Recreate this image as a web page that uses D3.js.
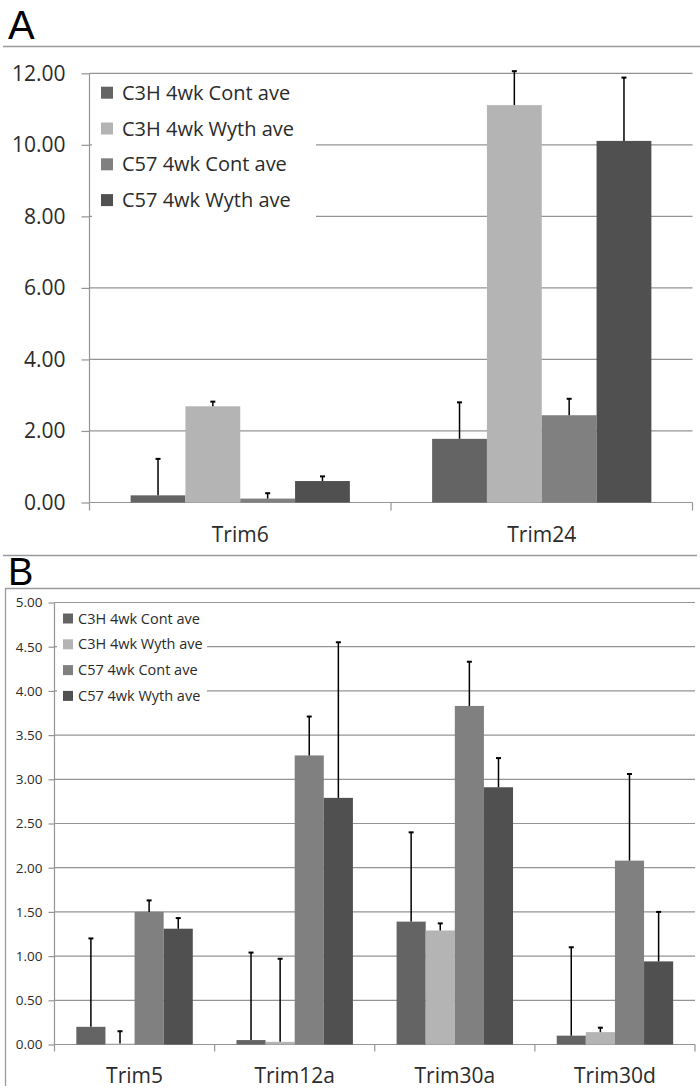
<!DOCTYPE html>
<html>
<head>
<meta charset="utf-8">
<script src="https://cdn.jsdelivr.net/npm/d3@7"></script>
<style>
  html, body { margin: 0; padding: 0; background: #fff; }
  svg { display: block; }
</style>
</head>
<body>
<svg id="chart" width="700" height="1092"></svg>
<script>
// ---------- DATA ----------
const seriesNames = ["C3H 4wk Cont ave", "C3H 4wk Wyth ave", "C57 4wk Cont ave", "C57 4wk Wyth ave"];

// Panel A
const aCategories = ["Trim6", "Trim24"];
const aC3HCont    = [0.20, 1.78];
const aC3HContErr = [1.02, 1.02];
const aC3HWyth    = [2.69, 11.11];
const aC3HWythErr = [0.13, 0.95];
const aC57Cont    = [0.11, 2.44];
const aC57ContErr = [0.15, 0.46];
const aC57Wyth    = [0.60, 10.11];
const aC57WythErr = [0.13, 1.77];
const aTicks = [0, 2, 4, 6, 8, 10, 12];

// Panel B
const bCategories = ["Trim5", "Trim12a", "Trim30a", "Trim30d"];
const bC3HCont    = [0.20, 0.05, 1.39, 0.10];
const bC3HContErr = [1.00, 0.99, 1.01, 1.00];
const bC3HWyth    = [0.01, 0.03, 1.29, 0.14];
const bC3HWythErr = [0.14, 0.94, 0.08, 0.05];
const bC57Cont    = [1.50, 3.27, 3.83, 2.08];
const bC57ContErr = [0.13, 0.44, 0.50, 0.98];
const bC57Wyth    = [1.31, 2.79, 2.91, 0.94];
const bC57WythErr = [0.12, 1.76, 0.33, 0.56];
const bTicks = [0, 0.5, 1, 1.5, 2, 2.5, 3, 3.5, 4, 4.5, 5];

// ---------- STYLE ----------
const seriesColors = ["#646464", "#b4b4b4", "#808080", "#505050"];
const gridColor = "#949494";
const textColor = "#2b2b2b";
const FONT = "'Open Sans', 'DejaVu Sans', sans-serif";

const svg = d3.select("#chart");

function buildRows(cats, means, errs) {
  return cats.map((c, i) => ({
    cat: c,
    vals: seriesNames.map((s, j) => ({ series: s, idx: j, v: means[j][i], e: errs[j][i] }))
  }));
}

function drawPanel(cfg) {
  const g = svg.append("g");
  const rows = buildRows(cfg.cats, cfg.means, cfg.errs);

  const x0 = d3.scaleBand().domain(cfg.cats).range([cfg.left, cfg.right]).paddingInner(0).paddingOuter(0);
  const x1 = d3.scaleBand().domain(seriesNames).range([0, x0.bandwidth()]).paddingInner(0).paddingOuter(0.75);
  const y = d3.scaleLinear().domain([0, cfg.ymax]).range([cfg.y0, cfg.ytop]);

  // gridlines
  g.append("g").selectAll("line").data(cfg.ticks.filter(t => t > 0)).join("line")
    .attr("x1", cfg.left).attr("x2", cfg.right)
    .attr("y1", d => y(d)).attr("y2", d => y(d))
    .attr("stroke", gridColor).attr("stroke-width", 1.2);

  // legend background (covers gridlines)
  g.append("rect")
    .attr("x", cfg.legend.bx).attr("y", cfg.legend.by)
    .attr("width", cfg.legend.bw).attr("height", cfg.legend.bh)
    .attr("fill", "#fff");

  // y axis
  const yAxis = d3.axisLeft(y).tickValues(cfg.ticks).tickFormat(d3.format(".2f"))
    .tickSize(cfg.tickLen).tickPadding(cfg.tickPad);
  const ya = g.append("g").attr("transform", `translate(${cfg.left},0)`).call(yAxis);
  ya.select(".domain").attr("stroke", gridColor).attr("stroke-width", 1.2)
    .attr("d", `M0,${y(0)}V${y(cfg.ymax)}`);
  ya.selectAll(".tick line").attr("stroke", gridColor).attr("stroke-width", 1.2);
  ya.selectAll(".tick text").attr("fill", textColor)
    .style("font-family", FONT).style("font-size", cfg.tickFont + "px");

  // x axis baseline + boundary ticks
  g.append("line").attr("x1", cfg.left).attr("x2", cfg.right)
    .attr("y1", y(0)).attr("y2", y(0))
    .attr("stroke", gridColor).attr("stroke-width", 1.2);
  const bounds = cfg.cats.map(c => x0(c)).concat([x0(cfg.cats[cfg.cats.length - 1]) + x0.bandwidth()]);
  g.append("g").selectAll("line").data(bounds).join("line")
    .attr("x1", d => d).attr("x2", d => d)
    .attr("y1", y(0)).attr("y2", y(0) + cfg.xTickLen)
    .attr("stroke", gridColor).attr("stroke-width", 1.2);

  // category labels
  g.append("g").selectAll("text").data(cfg.cats).join("text")
    .attr("x", d => x0(d) + x0.bandwidth() / 2)
    .attr("y", cfg.catY)
    .attr("text-anchor", "middle")
    .attr("fill", textColor)
    .style("font-family", FONT).style("font-size", cfg.catFont + "px")
    .text(d => d);

  // bars
  const grp = g.append("g").selectAll("g").data(rows).join("g")
    .attr("transform", d => `translate(${x0(d.cat)},0)`);
  grp.selectAll("rect").data(d => d.vals).join("rect")
    .attr("x", d => x1(d.series))
    .attr("width", x1.bandwidth())
    .attr("y", d => y(d.v))
    .attr("height", d => y(0) - y(d.v))
    .attr("fill", d => seriesColors[d.idx]);

  // error bars (positive only)
  const eb = grp.selectAll("g.err").data(d => d.vals).join("g").attr("class", "err");
  eb.append("line")
    .attr("x1", d => x1(d.series) + x1.bandwidth() / 2)
    .attr("x2", d => x1(d.series) + x1.bandwidth() / 2)
    .attr("y1", d => y(d.v))
    .attr("y2", d => y(d.v + d.e))
    .attr("stroke", "#000").attr("stroke-width", 1.5);
  eb.append("line")
    .attr("x1", d => x1(d.series) + x1.bandwidth() / 2 - 2.5)
    .attr("x2", d => x1(d.series) + x1.bandwidth() / 2 + 2.5)
    .attr("y1", d => y(d.v + d.e))
    .attr("y2", d => y(d.v + d.e))
    .attr("stroke", "#000").attr("stroke-width", 2);

  // legend
  const lg = g.append("g").selectAll("g").data(seriesNames).join("g")
    .attr("transform", (d, i) => `translate(${cfg.legend.sx},${cfg.legend.y0 + i * cfg.legend.dy})`);
  lg.append("rect")
    .attr("x", 0).attr("y", -cfg.legend.sq / 2)
    .attr("width", cfg.legend.sq).attr("height", cfg.legend.sq)
    .attr("fill", (d, i) => seriesColors[i]);
  lg.append("text")
    .attr("x", cfg.legend.tx).attr("y", 0).attr("dy", "0.35em")
    .attr("fill", textColor)
    .style("font-family", FONT).style("font-size", cfg.legend.font + "px")
    .text(d => d);
}

// ---------- FRAME / PANEL LETTERS ----------
const frame = svg.append("g").attr("stroke", "#9a9a9a").attr("stroke-width", 1.3);
frame.append("line").attr("x1", 3).attr("x2", 700).attr("y1", 46.5).attr("y2", 46.5);
frame.append("line").attr("x1", 3).attr("x2", 697).attr("y1", 555.5).attr("y2", 555.5);
frame.append("line").attr("x1", 5).attr("x2", 700).attr("y1", 588.5).attr("y2", 588.5);
frame.append("line").attr("x1", 5.5).attr("x2", 5.5).attr("y1", 588.5).attr("y2", 1086);

svg.append("text").attr("x", 8).attr("y", 39)
  .style("font-family", "'Liberation Sans', Arial, sans-serif").style("font-size", "40px")
  .attr("fill", "#000").text("A");
svg.append("text").attr("x", 8).attr("y", 585)
  .style("font-family", "'Liberation Sans', Arial, sans-serif").style("font-size", "38px")
  .attr("fill", "#000").text("B");

// ---------- PANEL A ----------
drawPanel({
  cats: aCategories,
  means: [aC3HCont, aC3HWyth, aC57Cont, aC57Wyth],
  errs: [aC3HContErr, aC3HWythErr, aC57ContErr, aC57WythErr],
  ticks: aTicks, ymax: 12,
  left: 89.5, right: 692.5, y0: 502.5, ytop: 73.3,
  tickLen: 8, tickPad: 16, tickFont: 21,
  xTickLen: 8, catY: 542, catFont: 21,
  legend: { bx: 92, by: 76, bw: 224, bh: 146, sx: 101, y0: 92.7, dy: 35.8, sq: 12, tx: 21, font: 20 }
});

// ---------- PANEL B ----------
drawPanel({
  cats: bCategories,
  means: [bC3HCont, bC3HWyth, bC57Cont, bC57Wyth],
  errs: [bC3HContErr, bC3HWythErr, bC57ContErr, bC57WythErr],
  ticks: bTicks, ymax: 5,
  left: 54.5, right: 695, y0: 1044.5, ytop: 602.5,
  tickLen: 6, tickPad: 6, tickFont: 13.5,
  xTickLen: 7, catY: 1083, catFont: 21,
  legend: { bx: 57, by: 606, bw: 150, bh: 104, sx: 63, y0: 618.5, dy: 25.8, sq: 10, tx: 15, font: 14.5 }
});
</script>
</body>
</html>
